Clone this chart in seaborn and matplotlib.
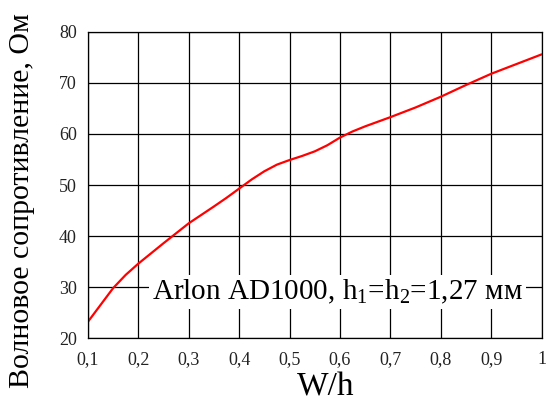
import numpy as np
import pandas as pd
import matplotlib
matplotlib.use("Agg")
import matplotlib.pyplot as plt
from matplotlib.ticker import FuncFormatter
import seaborn as sns

# Characteristic impedance vs. strip width ratio
w_h = [0.10, 0.125, 0.15, 0.175, 0.20, 0.25, 0.30, 0.35, 0.375, 0.40, 0.425,
       0.45, 0.475, 0.50, 0.525, 0.55, 0.575, 0.60, 0.625, 0.65, 0.70, 0.75,
       0.80, 0.85, 0.90, 0.95, 1.00]
z0 = [23.2, 26.5, 29.8, 32.4, 34.6, 38.6, 42.5, 45.8, 47.5, 49.3, 51.1,
      52.7, 54.0, 54.9, 55.7, 56.6, 57.8, 59.3, 60.5, 61.5, 63.3, 65.2,
      67.3, 69.6, 71.8, 73.7, 75.6]

x_ticks = [0.1, 0.2, 0.3, 0.4, 0.5, 0.6, 0.7, 0.8, 0.9, 1.0]
y_ticks = [20, 30, 40, 50, 60, 70, 80]

df = pd.DataFrame({"W/h": w_h, "Z0": z0})

sns.set_style("white")
plt.rcParams["font.family"] = ["Liberation Serif", "DejaVu Serif"]
plt.rcParams["mathtext.fontset"] = "custom"
plt.rcParams["mathtext.rm"] = "Liberation Serif"
plt.rcParams["mathtext.it"] = "Liberation Serif"

fig = plt.figure(figsize=(5.46, 4.04), dpi=100)
ax = fig.add_axes([0.161, 0.163, 0.831, 0.758])

sns.lineplot(data=df, x="W/h", y="Z0", ax=ax, color="#ff0000", linewidth=1.6,
             solid_joinstyle="round")

ax.set_xlim(0.1, 1.0)
ax.set_ylim(20, 80)
ax.set_xticks(x_ticks)
ax.set_yticks(y_ticks)
ax.xaxis.set_major_formatter(FuncFormatter(lambda v, p: f"{v:g}".replace(".", ",")))
ax.grid(True, color="black", linewidth=0.9)
ax.set_axisbelow(True)
for s in ax.spines.values():
    s.set_color("black")
    s.set_linewidth(0.9)
ax.tick_params(axis="both", length=0, labelsize=13, colors="#222222", pad=8)
ax.tick_params(axis="x", pad=9)

ax.set_xlabel("W/h", fontsize=24, color="black")
ax.xaxis.set_label_coords(0.523, -0.112)
ax.set_ylabel("Волновое сопротивление, Ом", fontsize=21.5, color="black",
              va="center")
ax.yaxis.set_label_coords(-0.145, 0.45)

ax.text(0.595, 29.1, r"Arlon AD1000, h$_1$=h$_2$=1,27 мм", fontsize=21,
        ha="center", va="center", color="black",
        bbox=dict(facecolor="white", edgecolor="none", pad=2))

fig.savefig("out.png", dpi=100)
